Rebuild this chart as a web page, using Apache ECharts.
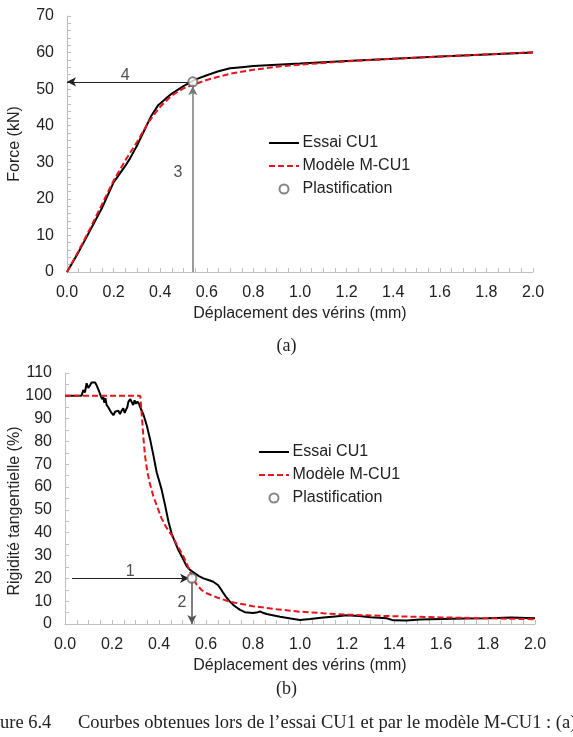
<!DOCTYPE html>
<html>
<head>
<meta charset="utf-8">
<script src="https://cdn.jsdelivr.net/npm/echarts@6/dist/echarts.min.js"></script>
<style>
html,body{margin:0;padding:0;background:#fff;}
#c{width:573px;height:737px;}
</style>
</head>
<body>
<div id="c"></div>
<script>
// ---------- data ----------
const xTicks = [0, 0.2, 0.4, 0.6, 0.8, 1.0, 1.2, 1.4, 1.6, 1.8, 2.0];
const topEssai = [[0,0],[0.05,5.5],[0.1,11.5],[0.15,17.5],[0.2,24.5],[0.25,29],[0.27,31],[0.3,34.5],[0.33,38.5],[0.36,42.5],[0.39,45.5],[0.42,47.2],[0.45,48.8],[0.5,50.8],[0.55,52.6],[0.6,53.8],[0.65,54.9],[0.7,55.7],[0.75,56.0],[0.8,56.3],[0.9,56.7],[1.0,57.0],[1.2,57.7],[1.4,58.3],[1.6,58.9],[1.8,59.5],[2.0,60.0]];
const topModele = [[0,0],[0.05,5.8],[0.1,12],[0.15,18.5],[0.2,25],[0.25,30.5],[0.3,35.5],[0.35,41],[0.4,45.2],[0.45,48.3],[0.5,50.2],[0.55,51.4],[0.6,52.5],[0.65,53.4],[0.7,54.2],[0.8,55.3],[0.9,56.1],[1.0,56.7],[1.2,57.6],[1.4,58.3],[1.6,58.9],[1.8,59.5],[2.0,60.1]];
const topPlast = [0.54, 52];
const topLabels = [[0.25, 53.6, '4'], [0.476, 27.3, '3']];

const botEssai = [[0,100],[0.07,100],[0.078,102.5],[0.085,101.5],[0.092,105.5],[0.099,103.5],[0.106,104.5],[0.113,105.8],[0.128,105.8],[0.135,104.5],[0.139,103.5],[0.145,102],[0.152,100],[0.158,98.5],[0.163,99.5],[0.167,97],[0.172,99],[0.177,96],[0.184,95],[0.191,94.5],[0.198,92.5],[0.206,91.5],[0.213,93],[0.22,92.5],[0.227,93.5],[0.234,92],[0.241,93.5],[0.248,94.5],[0.254,92.5],[0.26,94],[0.265,95],[0.27,97.5],[0.278,98.5],[0.285,97],[0.29,96],[0.296,98],[0.302,96.5],[0.308,97.5],[0.315,96.5],[0.32,95],[0.333,92],[0.348,87],[0.362,81],[0.376,74],[0.39,66.5],[0.4,63],[0.411,59],[0.426,52],[0.44,45],[0.454,39.5],[0.468,36],[0.482,32.5],[0.5,29],[0.518,25.3],[0.532,23.7],[0.553,22.2],[0.57,21],[0.589,20],[0.61,19.3],[0.631,18.5],[0.652,17],[0.665,15],[0.674,13.5],[0.688,11.5],[0.702,9.8],[0.72,8],[0.745,6.2],[0.766,5.2],[0.8,4.8],[0.815,5],[0.83,5.5],[0.845,4.8],[0.858,4.4],[0.915,3.2],[0.96,2.4],[1.0,1.8],[1.043,2.2],[1.1,2.8],[1.15,3.3],[1.2,3.8],[1.25,3.5],[1.3,3.0],[1.369,2.5],[1.397,1.6],[1.454,1.5],[1.51,2.0],[1.6,2.2],[1.7,2.4],[1.8,2.5],[1.9,2.8],[2.0,2.5]];
const botModele = [[0,100],[0.32,100],[0.325,94],[0.33,87],[0.335,80],[0.34,74],[0.35,67],[0.36,62],[0.376,56],[0.39,52],[0.41,46.5],[0.43,42.5],[0.455,38.8],[0.48,34],[0.5,30.5],[0.52,26],[0.54,21],[0.56,17.3],[0.58,15],[0.6,13.6],[0.65,11.5],[0.7,9.8],[0.8,7.8],[0.9,6.5],[1.0,5.4],[1.1,4.7],[1.2,4.1],[1.4,3.4],[1.6,2.9],[1.8,2.5],[2.0,2.1]];
const botPlast = [0.54, 20];
const botArrowStartX = 0.03;
const botLabels = [[0.277, 22.8, '1'], [0.498, 9.2, '2']];

// ---------- styles ----------
const FONT = 'Liberation Sans, Arial, sans-serif';
const TXT = '#222';
const AX = '#bfbfbf';
const FS = 16;

function xAxis(gridIndex) {
  return {
    type: 'value', gridIndex, min: 0, max: 2, interval: 0.2,
    name: 'Déplacement des vérins (mm)', nameLocation: 'middle', nameGap: 34,
    nameTextStyle: {fontFamily: FONT, fontSize: FS, color: TXT},
    axisLine: {lineStyle: {color: AX, width: 1}},
    axisTick: {inside: true, length: 4, lineStyle: {color: AX}},
    minorTick: {show: true, splitNumber: 4, length: 4, lineStyle: {color: AX}},
    splitLine: {show: false},
    axisLabel: {fontFamily: FONT, fontSize: FS, color: TXT, margin: 13,
      formatter: v => xTicks.some(t => Math.abs(t - v) < 1e-9) ? v.toFixed(1) : ''}
  };
}
function yAxis(gridIndex, max, name, minorSplit, nameGap) {
  return {
    type: 'value', gridIndex, min: 0, max, interval: 10,
    name, nameLocation: 'middle', nameGap, nameRotate: 90,
    nameTextStyle: {fontFamily: FONT, fontSize: FS, color: TXT},
    axisLine: {show: true, lineStyle: {color: AX, width: 1}},
    axisTick: {show: true, inside: true, length: 4, lineStyle: {color: AX}},
    minorTick: {show: true, splitNumber: minorSplit, length: 4, lineStyle: {color: AX}},
    splitLine: {show: false},
    axisLabel: {fontFamily: FONT, fontSize: FS, color: TXT, margin: 13}
  };
}
function curves(idx, essai, modele, plast, arrows, labels) {
  return [
    {name: 'Essai CU1', type: 'line', xAxisIndex: idx, yAxisIndex: idx, data: essai,
      showSymbol: false, symbol: 'none', lineStyle: {color: '#000', width: 2}, itemStyle: {color: '#000'}, z: 3},
    {name: 'Modèle M-CU1', type: 'line', xAxisIndex: idx, yAxisIndex: idx, data: modele,
      showSymbol: false, symbol: 'none', lineStyle: {color: '#e8141b', width: 2, type: [6, 3]}, itemStyle: {color: '#e8141b'}, z: 4},
    {name: 'Plastification', type: 'scatter', xAxisIndex: idx, yAxisIndex: idx, data: [plast],
      symbol: 'emptyCircle', symbolSize: 9, itemStyle: {color: '#666', borderColor: '#666', borderWidth: 1}, z: 5,
      markLine: {silent: true, animation: false, symbol: ['none', 'arrow'], symbolSize: [7, 9],
        label: {show: false}, data: arrows}},
    {name: 'labels', type: 'scatter', xAxisIndex: idx, yAxisIndex: idx, symbolSize: 0, silent: true,
      data: labels.map(l => ({value: [l[0], l[1]], name: l[2]})),
      label: {show: true, position: 'inside', formatter: p => p.name, fontFamily: FONT, fontSize: FS, color: TXT}}
  ];
}

const topArrows = [
  [{coord: [topPlast[0] - 0.005, topPlast[1]], lineStyle: {color: '#222', width: 1, type: 'solid'}}, {coord: [0, topPlast[1]]}],
  [{coord: [topPlast[0], 0], lineStyle: {color: '#777', width: 1.5, type: 'solid'}}, {coord: [topPlast[0], topPlast[1] - 1.2]}]
];
const botArrows = [
  [{coord: [botArrowStartX, botPlast[1]], lineStyle: {color: '#222', width: 1, type: 'solid'}}, {coord: [botPlast[0] - 0.012, botPlast[1]]}],
  [{coord: [botPlast[0], botPlast[1] - 1], lineStyle: {color: '#555', width: 1.5, type: 'solid'}}, {coord: [botPlast[0], 0]}]
];

const legendBase = {
  orient: 'vertical', itemWidth: 30, itemHeight: 9, itemGap: 7,
  data: [
    {name: 'Essai CU1', itemStyle: {opacity: 0}},
    {name: 'Modèle M-CU1', itemStyle: {opacity: 0}},
    {name: 'Plastification'}
  ],
  textStyle: {fontFamily: FONT, fontSize: FS, color: TXT, padding: [0, 0, 0, -1.5]}, selectedMode: false
};

const chart = echarts.init(document.getElementById('c'), null, {renderer: 'canvas'});
chart.setOption({
  animation: false,
  backgroundColor: '#fff',
  grid: [
    {left: 67, top: 16, width: 466, height: 256, outerBoundsMode: 'none', containLabel: false},
    {left: 65, top: 373, width: 470, height: 251, outerBoundsMode: 'none', containLabel: false}
  ],
  xAxis: [xAxis(0), xAxis(1)],
  yAxis: [yAxis(0, 70, 'Force (kN)', 5, 44), yAxis(1, 110, '', 2, 43)],
  legend: [
    Object.assign({left: 263, top: 130}, legendBase),
    Object.assign({left: 253, top: 439}, legendBase)
  ],
  series: [].concat(
    curves(0, topEssai, topModele, topPlast, topArrows, topLabels),
    curves(1, botEssai, botModele, botPlast, botArrows, botLabels)
  ),
  graphic: [
    {type: 'text', x: 15, y: 511, rotation: Math.PI / 2,
      style: {text: 'Rigidité tangentielle (%)', font: FS + 'px ' + FONT, fill: TXT, align: 'center', verticalAlign: 'middle'}},
    {type: 'text', left: 'center', top: 337, style: {text: '(a)', font: '18px "Liberation Serif", serif', fill: '#222'}},
    {type: 'text', left: 'center', top: 680, style: {text: '(b)', font: '18px "Liberation Serif", serif', fill: '#222'}},
    {type: 'text', x: 0, y: 714, style: {text: 'ure 6.4', font: '18.5px "Liberation Serif", serif', fill: '#222'}},
    {type: 'text', x: 78, y: 714, style: {text: 'Courbes obtenues lors de l’essai CU1 et par le modèle M-CU1 : (a)', font: '18.5px "Liberation Serif", serif', fill: '#222'}}
  ]
});
</script>
</body>
</html>
